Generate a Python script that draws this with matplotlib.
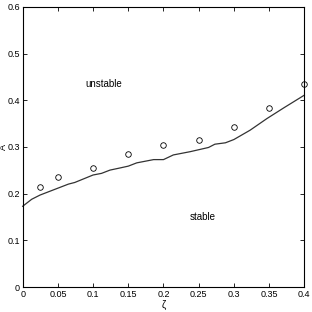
#!/usr/bin/env python3

import matplotlib
matplotlib.use('Agg')
import matplotlib.pyplot as plt

# stability boundary (solid line)
zeta_line = [0, 0.0128, 0.0246, 0.0435, 0.065, 0.074, 0.100, 0.112, 0.124, 0.138,
             0.150, 0.162, 0.186, 0.200, 0.214, 0.238, 0.264, 0.273, 0.288, 0.300,
             0.323, 0.347, 0.371, 0.400]
A_line = [0.173, 0.188, 0.197, 0.208, 0.2205, 0.224, 0.240, 0.2435, 0.2505, 0.255,
          0.259, 0.266, 0.273, 0.273, 0.283, 0.290, 0.299, 0.306, 0.309, 0.316,
          0.336, 0.361, 0.384, 0.411]

# measured points (circles)
zeta_pts = [0.025, 0.05, 0.1, 0.15, 0.2, 0.25, 0.3, 0.35, 0.4]
A_pts = [0.215, 0.235, 0.255, 0.284, 0.304, 0.314, 0.343, 0.384, 0.434]

xticks = [0, 0.05, 0.1, 0.15, 0.2, 0.25, 0.3, 0.35, 0.4]
xticklabels = ['0', '0.05', '0.1', '0.15', '0.2', '0.25', '0.3', '0.35', '0.4']
yticks = [0, 0.1, 0.2, 0.3, 0.4, 0.5, 0.6]
yticklabels = ['0', '0.1', '0.2', '0.3', '0.4', '0.5', '0.6']

plt.rcParams['font.family'] = ['Liberation Sans', 'DejaVu Sans']

fig = plt.figure(figsize=(3.12, 3.12), dpi=100)
hax = fig.add_axes([0.0727, 0.0801, 0.9026, 0.8975])

hax.plot(zeta_line, A_line, '-', color='#333333', lw=0.9, clip_on=False)
hax.plot(zeta_pts, A_pts, 'o', mfc='none', mec='black', ms=4, mew=0.6, clip_on=False)

hax.text(0.1146, 0.436, 'unstable', fontsize=7, ha='center', va='center')
hax.text(0.256, 0.149, 'stable', fontsize=7, ha='center', va='center')

hax.set_xlim(0, 0.4)
hax.set_ylim(0, 0.6)
hax.set_xticks(xticks)
hax.set_xticklabels(xticklabels)
hax.set_yticks(yticks)
hax.set_yticklabels(yticklabels)
hax.tick_params(direction='in', length=3, width=0.6, labelsize=6.5, pad=2,
                top=True, right=True)
for s in hax.spines.values():
    s.set_linewidth(0.8)

hax.set_xlabel('ζ', fontsize=7, labelpad=1)
# y label sits right against the tick labels, kept inside the figure
hax.text(-0.067, 0.5, 'A', fontsize=6.5, rotation=90, ha='center', va='center',
         transform=hax.transAxes)

fig.savefig('out.png', dpi=100)
